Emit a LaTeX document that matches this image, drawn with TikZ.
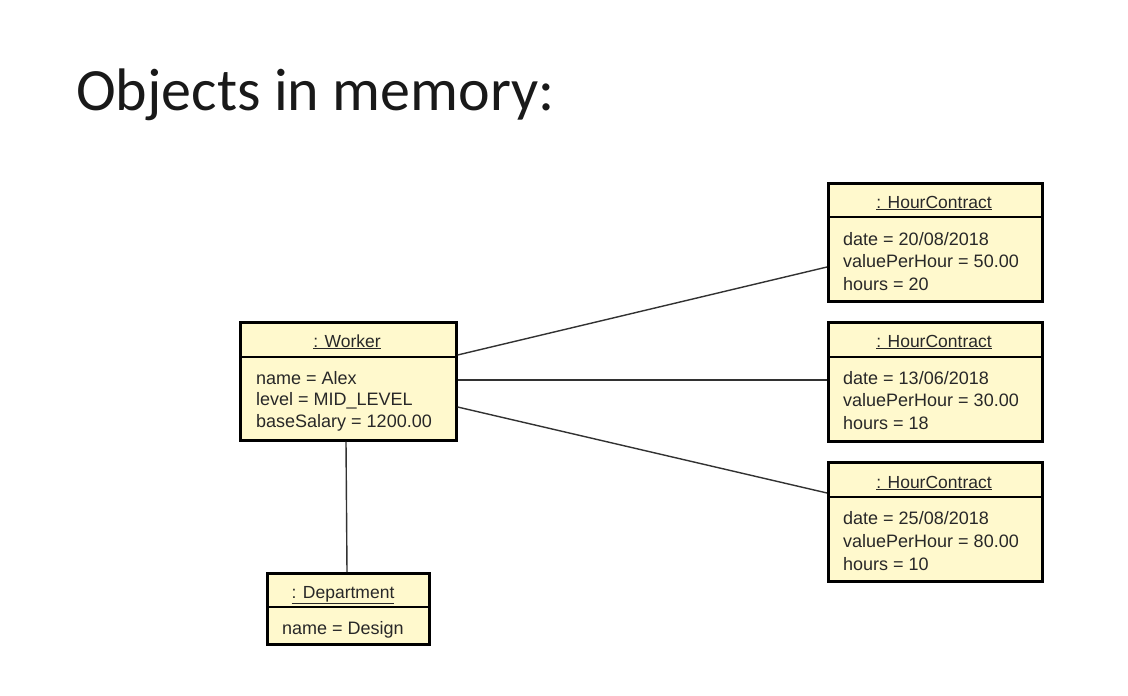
\documentclass[tikz,border=0pt]{standalone}
\usepackage{fontspec}
\setmainfont{Liberation Sans}
\newfontfamily\titlefont{Carlito}
\definecolor{objfill}{RGB}{255,249,205}
\definecolor{txt}{RGB}{40,40,40}
\definecolor{lnk}{RGB}{50,50,50}
\begin{document}
\begin{tikzpicture}[x=1pt,y=-1pt,
  objbox/.style={draw=black,line width=2.6pt,fill=objfill,anchor=north west,inner sep=0pt},
  divider/.style={draw=black,line width=1.3pt},
  hdr/.style={font=\fontsize{17.5}{20}\selectfont,text=txt,anchor=base,inner sep=0pt},
  attr/.style={font=\fontsize{18}{20}\selectfont,text=txt,anchor=base west,inner sep=0pt},
  link/.style={draw=lnk,line width=1.4pt}]
\useasboundingbox[fill=white] (0,0) rectangle (1128,696);
% title
\node[anchor=base west,inner sep=0pt,font=\titlefont\fontsize{60}{62}\selectfont,text=black!90] (title) at (76,110) {Objects in memory:};
% Worker
\node[objbox,minimum width=216pt,minimum height=118pt] (w) at (239,321) {};
\draw[divider] (239,357) -- (455,357);
\node[hdr] (wh) at (347,347) {\underline{: Worker}};
\node[attr] (w1) at (256,384) {name = Alex};
\node[attr] (w2) at (256,405) {level = MID\_LEVEL};
\node[attr] (w3) at (256,427) {baseSalary = 1200.00};
% HourContract 1
\node[objbox,minimum width=214pt,minimum height=118pt] (c1) at (827,182) {};
\draw[divider] (827,217) -- (1041,217);
\node[hdr] (c1h) at (934,208) {\underline{: HourContract}};
\node[attr] (c1a) at (843,245) {date = 20/08/2018};
\node[attr] (c1b) at (843,267) {valuePerHour = 50.00};
\node[attr] (c1c) at (843,290) {hours = 20};
% HourContract 2
\node[objbox,minimum width=214pt,minimum height=119pt] (c2) at (827,321) {};
\draw[divider] (827,357) -- (1041,357);
\node[hdr] (c2h) at (934,347) {\underline{: HourContract}};
\node[attr] (c2a) at (843,384) {date = 13/06/2018};
\node[attr] (c2b) at (843,406) {valuePerHour = 30.00};
\node[attr] (c2c) at (843,429) {hours = 18};
% HourContract 3
\node[objbox,minimum width=214pt,minimum height=119pt] (c3) at (827,461) {};
\draw[divider] (827,497) -- (1041,497);
\node[hdr] (c3h) at (934,488) {\underline{: HourContract}};
\node[attr] (c3a) at (843,524) {date = 25/08/2018};
\node[attr] (c3b) at (843,547) {valuePerHour = 80.00};
\node[attr] (c3c) at (843,570) {hours = 10};
% Department
\node[objbox,minimum width=162pt,minimum height=71pt] (d) at (266,572) {};
\draw[divider] (266,607) -- (428,607);
\node[hdr] (dh) at (343,598) {\underline{: Department}};
\node[attr] (d1) at (282,634) {name = Design};
% links
\draw[link] ([yshift=-34pt]w.north east) -- ([yshift=-85pt]c1.north west);
\draw[link] ([yshift=-59pt]w.north east) -- ([yshift=-59pt]c2.north west);
\draw[link] ([yshift=-86pt]w.north east) -- ([yshift=-32pt]c3.north west);
\draw[link] ([xshift=107pt]w.south west) -- ([xshift=81pt]d.north west);
\end{tikzpicture}
\end{document}
